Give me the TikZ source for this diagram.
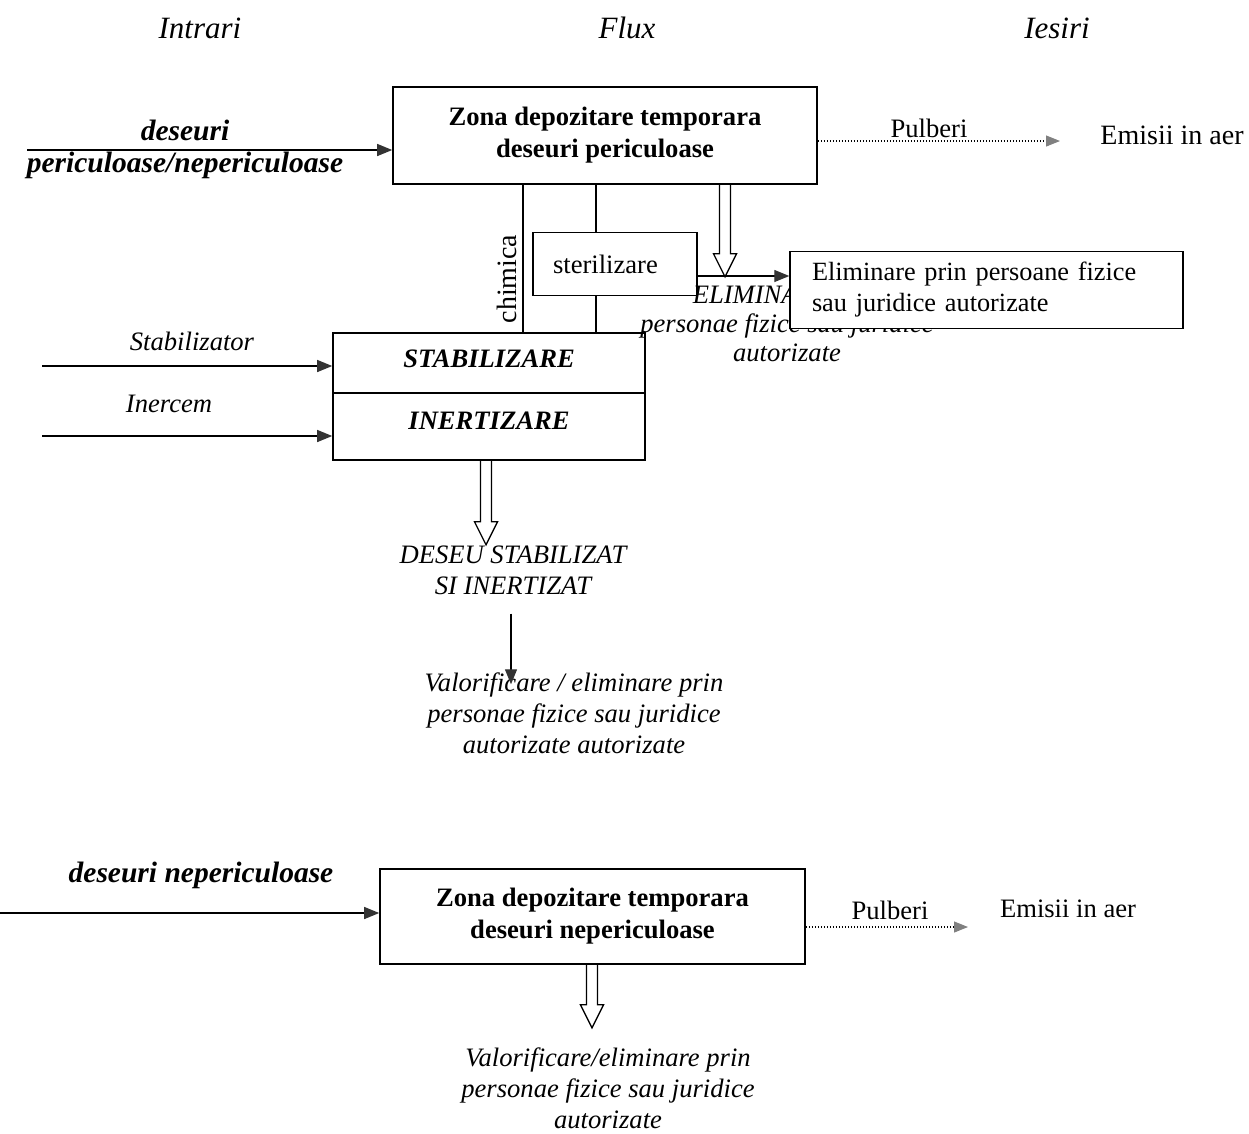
\documentclass[tikz,border=0pt]{standalone}
\usepackage{fontspec}
\setmainfont{Liberation Serif}
\usetikzlibrary{arrows.meta,calc}
\definecolor{tipgray}{HTML}{333333}
\begin{document}
\begin{tikzpicture}[x=1pt,y=-1pt,
  box/.style={draw, line width=1.6pt, inner sep=0pt, align=center, font=\bfseries\fontsize{26.6}{32}\selectfont},
  plain/.style={align=center, inner sep=2pt, font=\fontsize{26.6}{31}\selectfont},
  ital/.style={align=center, inner sep=2pt, font=\itshape\fontsize{26.6}{31}\selectfont},
  inlabel/.style={align=center, inner sep=2pt, font=\bfseries\itshape\fontsize{29.5}{35}\selectfont},
  title/.style={inner sep=2pt, font=\itshape\fontsize{31}{36}\selectfont},
  conn/.style={line width=1.3pt},
  arr/.style={conn, -{Triangle[length=15pt,width=12pt,color=tipgray]}},
  dots/.style={line width=1.1pt, dash pattern=on 1.2pt off 1.8pt, -{Triangle[length=14pt,width=11pt,color=gray]}},
  pics/hollowarrow/.style={code={\draw[line width=1.3pt] (-5.5,0) -- (-5.5,#1-23) -- (-11.5,#1-23) -- (0,#1) -- (11.5,#1-23) -- (5.5,#1-23) -- (5.5,0);}}
]
\useasboundingbox (0,0) rectangle (1249,1133);

% titles
\node[title] (tIn) at (200,28) {Intrari};
\node[title] (tFlux) at (627,28) {Flux};
\node[title] (tOut) at (1057,28) {Iesiri};

% guide coordinates
\coordinate (gx1) at (523,0);
\coordinate (gx2) at (596,0);
\coordinate (gx3) at (725,0);
\coordinate (gx4) at (486,0);
\coordinate (gx5) at (592,0);
\coordinate (gx6) at (511,0);
\coordinate (gyA) at (0,141);
\coordinate (gyB) at (0,276);
\coordinate (gyC) at (0,927);

% top box
\node[box, minimum width=424, minimum height=97] (box1) at (605,135.5) {Zona depozitare temporara\\deseuri periculoase};

% input to box1
\coordinate (in1) at (27,150);
\node[inlabel] (lab1a) at (185,130) {deseuri};
\node[inlabel] (lab1b) at (185,165) {periculoase/nepericuloase};
\draw[arr] (in1) -- (in1 -| box1.west);

% emissions top
\node[plain, font=\fontsize{28}{32}\selectfont] (em1) at (1172,135) {Emisii in aer};
\node[plain] (pul1) at (929,128) {Pulberi};
\coordinate (em1end) at (1060,141);
\draw[dots] (box1.east |- gyA) -- (em1end);

% sterilizare
\node[draw, line width=1.4pt, minimum height=63, text width=124, inner xsep=20pt, inner ysep=0pt, align=left, font=\fontsize{26.6}{31}\selectfont] (steril) at (615,264) {sterilizare};

% STABILIZARE / INERTIZARE
\node[box, minimum width=312, minimum height=60, text depth=8pt, font=\bfseries\itshape\fontsize{26.6}{31}\selectfont] (stab) at (489,363) {STABILIZARE};
\node[box, minimum width=312, minimum height=67, text depth=12pt, font=\bfseries\itshape\fontsize{26.6}{31}\selectfont] (inert) at (489,426.5) {INERTIZARE};

% connections box1 -> stab
\draw[conn] (box1.south -| gx1) -- (stab.north -| gx1);
\node[plain, rotate=90, font=\fontsize{28}{32}\selectfont, inner sep=0pt] (chim) at (507,279) {chimica};
\draw[conn] (box1.south -| gx2) -- (steril.north -| gx2);
\draw[conn] (steril.south -| gx2) -- (stab.north -| gx2);

% ELIMINARE text, partly hidden under the box
\node[ital, font=\itshape\fontsize{26.6}{29}\selectfont] (elimtxt) at (787,324) {ELIMINARE prin\\personae fizice sau juridice\\autorizate};

% Eliminare box
\node[draw, fill=white, line width=1.4pt, minimum height=77, text width=349, inner xsep=22pt, inner ysep=0pt, align=left, font=\fontsize{26.3}{31}\selectfont] (elim) at (986.5,290) {Eliminare prin persoane fizice\\sau juridice autorizate};

% hollow arrow from box1
\pic at (box1.south -| gx3) {hollowarrow=92};
\draw[arr] (steril.east |- gyB) -- (elim.west |- gyB);

% inputs to stab
\coordinate (in2) at (42,366);
\coordinate (in3) at (42,436);
\node[ital] (lab2) at (192,341) {Stabilizator};
\node[ital] (lab3) at (169,404) {Inercem};
\draw[arr] (in2) -- (in2 -| stab.west);
\draw[arr] (in3) -- (in3 -| inert.west);

% output of stab
\pic at (inert.south -| gx4) {hollowarrow=84};
\node[ital] (deseu) at (513,570) {DESEU STABILIZAT\\SI INERTIZAT};
\node[ital] (valor1) at (574,713) {Valorificare / eliminare prin\\personae fizice sau juridice\\autorizate autorizate};
\draw[arr, shorten <=17pt, shorten >=-14pt] (deseu.south -| gx6) -- (valor1.north -| gx6);

% bottom box
\node[box, minimum width=425, minimum height=95] (box2) at (592.5,916.5) {Zona depozitare temporara\\deseuri nepericuloase};
\coordinate (in4) at (0,913);
\node[inlabel] (lab4) at (201,875) {deseuri nepericuloase};
\draw[arr] (in4) -- (in4 -| box2.west);

\node[plain] (pul2) at (890,910) {Pulberi};
\node[plain] (em2) at (1068,909) {Emisii in aer};
\coordinate (em2end) at (968,927);
\draw[dots] (box2.east |- gyC) -- (em2end);

\pic at (box2.south -| gx5) {hollowarrow=63};
\node[ital] (valor2) at (608,1088) {Valorificare/eliminare prin\\personae fizice sau juridice\\autorizate};
\end{tikzpicture}
\end{document}
